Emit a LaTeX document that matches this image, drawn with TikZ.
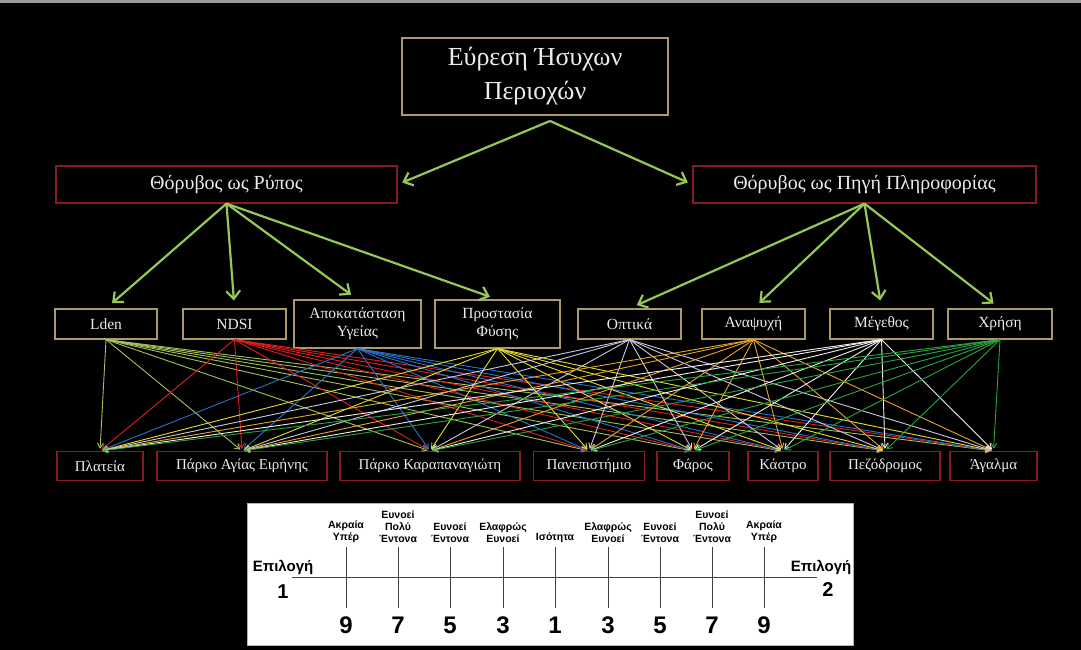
\documentclass[tikz,border=0pt]{standalone}
\usepackage{fontspec}
\setmainfont{Liberation Serif}
\setsansfont{Liberation Sans}
\usetikzlibrary{arrows.meta}
\definecolor{boxgold}{RGB}{170,155,105}
\definecolor{boxred}{RGB}{135,28,32}
\definecolor{arrgreen}{RGB}{150,200,85}
\definecolor{txtgrey}{RGB}{236,236,236}
\definecolor{clden}{RGB}{160,195,90}
\definecolor{cndsi}{RGB}{225,30,30}
\definecolor{capok}{RGB}{40,115,205}
\definecolor{cprost}{RGB}{230,220,45}
\definecolor{copt}{RGB}{205,200,225}
\definecolor{canap}{RGB}{230,165,40}
\definecolor{cmeg}{RGB}{240,240,240}
\definecolor{cchr}{RGB}{40,165,65}

\begin{document}
\begin{tikzpicture}[x=1pt,y=-1pt,
  goldbox/.style={draw=boxgold,line width=1.2pt,fill=black,text=txtgrey,inner sep=0pt,align=center},
  redbox/.style={draw=boxred,line width=1.2pt,fill=black,text=txtgrey,inner sep=0pt,align=center},
  bigarrow/.style={draw=arrgreen,line width=2.2pt,-{Straight Barb[length=8pt,width=14pt]},shorten >=5pt},
  linkarrow/.style={line width=0.9pt,-{Straight Barb[length=5pt,width=6pt]},shorten >=2pt},
  scalelbl/.style={font=\sffamily\bfseries\fontsize{10.5}{12}\selectfont,align=center,anchor=south,inner sep=0pt},
  scalenum/.style={font=\sffamily\bfseries\fontsize{24}{26}\selectfont,inner sep=0pt}]
  % background
  \fill[black] (0,0) rectangle (1081,650);
  \fill[black!40] (0,0) rectangle (1081,3);

  % top and first level
  \node[goldbox,minimum width=266,minimum height=77,font=\fontsize{26}{34}\selectfont] (goal) at (535,76.5) {Εύρεση Ήσυχων\\Περιοχών};
  \node[redbox,minimum width=341,minimum height=37,font=\fontsize{20}{24}\selectfont] (lp) at (226.5,184.5) {Θόρυβος ως Ρύπος};
  \node[redbox,minimum width=343,minimum height=37,font=\fontsize{20}{24}\selectfont] (rp) at (864.5,184.5) {Θόρυβος ως Πηγή Πληροφορίας};

  % criteria
  \begin{scope}[every node/.style={goldbox,minimum height=30,font=\fontsize{15.5}{18}\selectfont}]
    \node[minimum width=102] (lden) at (106,324) {Lden};
    \node[minimum width=103] (ndsi) at (234.5,324) {NDSI};
    \node[minimum width=127,minimum height=48] (apok) at (357.5,324) {Αποκατάσταση\\Υγείας};
    \node[minimum width=125,minimum height=48] (prost) at (497.5,324) {Προστασία\\Φύσης};
    \node[minimum width=103] (opt) at (629.5,324) {Οπτικά};
    \node[minimum width=103] (anap) at (753.5,324) {Αναψυχή};
    \node[minimum width=103] (meg) at (881.5,324) {Μέγεθος};
    \node[minimum width=104] (chr) at (1000,324) {Χρήση};
  \end{scope}

  % places
  \begin{scope}[every node/.style={redbox,minimum height=29,font=\fontsize{15}{17}\selectfont}]
    \node[minimum width=86] (plat) at (100,466) {Πλατεία};
    \node[minimum width=170] (agias) at (242,466) {Πάρκο Αγίας Ειρήνης};
    \node[minimum width=180] (karap) at (430,466) {Πάρκο Καραπαναγιώτη};
    \node[minimum width=111] (panep) at (589,466) {Πανεπιστήμιο};
    \node[minimum width=72] (faros) at (693,466) {Φάρος};
    \node[minimum width=70] (kastro) at (783,466) {Κάστρο};
    \node[minimum width=110] (pezo) at (885,466) {Πεζόδρομος};
    \node[minimum width=87] (agalma) at (993.5,466) {Άγαλμα};
  \end{scope}

  % green arrows
  \coordinate (split) at (550,121);
  \draw[bigarrow] (split) -- (lp.east);
  \draw[bigarrow] (split) -- (rp.west);
  \foreach \t in {lden,ndsi,apok,prost}
    \draw[bigarrow,shorten >=8pt] (lp.south) -- (\t.north);
  \foreach \t in {opt,anap,meg,chr}
    \draw[bigarrow,shorten >=8pt] (rp.south) -- (\t.north);

  % every criterion to every place
  \foreach \s/\c in {lden/clden,ndsi/cndsi,apok/capok,prost/cprost,opt/copt,anap/canap,meg/cmeg,chr/cchr}
    \foreach \t in {plat,agias,karap,panep,faros,kastro,pezo,agalma}
      \draw[linkarrow,\c] (\s.south) -- (\t.north);

  % comparison scale
  \fill[white] (247,503) rectangle (853,645);
  \draw[black!30] (247,503) rectangle (853,645);
  \draw[black!75,line width=1pt] (292,577) -- (817,577);
  \foreach \x/\n/\t in {346/9/{Ακραία\\Υπέρ},398/7/{Ευνοεί\\Πολύ\\Έντονα},450/5/{Ευνοεί\\Έντονα},503/3/{Ελαφρώς\\Ευνοεί},555/1/{Ισότητα},608/3/{Ελαφρώς\\Ευνοεί},660/5/{Ευνοεί\\Έντονα},712/7/{Ευνοεί\\Πολύ\\Έντονα},764/9/{Ακραία\\Υπέρ}}{
    \draw[black!75,line width=1pt] (\x,547) -- (\x,608);
    \node[scalelbl] (lbl\x) at (\x,543) {\t};
    \node[scalenum] (num\x) at (\x,625) {\n};
  }
  \node[font=\sffamily\bfseries\fontsize{15}{17}\selectfont,inner sep=0pt] (opta) at (283,567) {Επιλογή};
  \node[font=\sffamily\bfseries\fontsize{20}{22}\selectfont,inner sep=0pt] (optanum) at (283,592) {1};
  \node[font=\sffamily\bfseries\fontsize{15}{17}\selectfont,inner sep=0pt] (optb) at (821,567) {Επιλογή};
  \node[font=\sffamily\bfseries\fontsize{20}{22}\selectfont,inner sep=0pt] (optbnum) at (828,590) {2};
\end{tikzpicture}
\end{document}
